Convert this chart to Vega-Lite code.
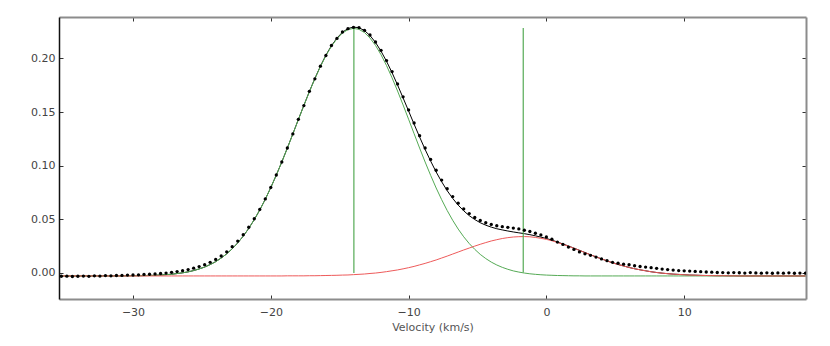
{
  "$schema": "https://vega.github.io/schema/vega-lite/v6.json",
  "width": 747,
  "height": 282,
  "autosize": {"type": "none"},
  "padding": {"left": 59, "top": 17, "right": 24, "bottom": 47},
  "background": "white",
  "config": {"view": {"stroke": null}},
  "data": {"values": [
    {"v":-35.2,"obs":-0.0031,"fit":-0.0028,"g1":-0.0028,"g2":-0.0028},
    {"v":-34.8,"obs":-0.0030,"fit":-0.0028,"g1":-0.0028,"g2":-0.0028},
    {"v":-34.4,"obs":-0.0033,"fit":-0.0028,"g1":-0.0028,"g2":-0.0028},
    {"v":-34.0,"obs":-0.0031,"fit":-0.0028,"g1":-0.0028,"g2":-0.0028},
    {"v":-33.6,"obs":-0.0029,"fit":-0.0028,"g1":-0.0028,"g2":-0.0028},
    {"v":-33.2,"obs":-0.0032,"fit":-0.0028,"g1":-0.0028,"g2":-0.0028},
    {"v":-32.8,"obs":-0.0027,"fit":-0.0028,"g1":-0.0028,"g2":-0.0028},
    {"v":-32.4,"obs":-0.0029,"fit":-0.0028,"g1":-0.0028,"g2":-0.0028},
    {"v":-32.0,"obs":-0.0025,"fit":-0.0028,"g1":-0.0028,"g2":-0.0028},
    {"v":-31.6,"obs":-0.0027,"fit":-0.0028,"g1":-0.0028,"g2":-0.0028},
    {"v":-31.2,"obs":-0.0024,"fit":-0.0028,"g1":-0.0028,"g2":-0.0028},
    {"v":-30.8,"obs":-0.0023,"fit":-0.0028,"g1":-0.0028,"g2":-0.0028},
    {"v":-30.4,"obs":-0.0020,"fit":-0.0027,"g1":-0.0027,"g2":-0.0028},
    {"v":-30.0,"obs":-0.0019,"fit":-0.0026,"g1":-0.0026,"g2":-0.0028},
    {"v":-29.6,"obs":-0.0018,"fit":-0.0026,"g1":-0.0026,"g2":-0.0028},
    {"v":-29.2,"obs":-0.0014,"fit":-0.0025,"g1":-0.0025,"g2":-0.0028},
    {"v":-28.8,"obs":-0.0012,"fit":-0.0024,"g1":-0.0024,"g2":-0.0028},
    {"v":-28.4,"obs":-0.0009,"fit":-0.0022,"g1":-0.0022,"g2":-0.0028},
    {"v":-28.0,"obs":-0.0005,"fit":-0.0019,"g1":-0.0019,"g2":-0.0028},
    {"v":-27.6,"obs":-0.0001,"fit":-0.0016,"g1":-0.0016,"g2":-0.0028},
    {"v":-27.2,"obs":0.0006,"fit":-0.0012,"g1":-0.0012,"g2":-0.0028},
    {"v":-26.8,"obs":0.0013,"fit":-0.0006,"g1":-0.0006,"g2":-0.0028},
    {"v":-26.4,"obs":0.0021,"fit":0.0001,"g1":0.0001,"g2":-0.0028},
    {"v":-26.0,"obs":0.0031,"fit":0.0010,"g1":0.0010,"g2":-0.0028},
    {"v":-25.6,"obs":0.0044,"fit":0.0022,"g1":0.0022,"g2":-0.0028},
    {"v":-25.2,"obs":0.0059,"fit":0.0037,"g1":0.0037,"g2":-0.0028},
    {"v":-24.8,"obs":0.0077,"fit":0.0055,"g1":0.0055,"g2":-0.0028},
    {"v":-24.4,"obs":0.0099,"fit":0.0078,"g1":0.0078,"g2":-0.0028},
    {"v":-24.0,"obs":0.0126,"fit":0.0105,"g1":0.0105,"g2":-0.0028},
    {"v":-23.6,"obs":0.0158,"fit":0.0139,"g1":0.0139,"g2":-0.0028},
    {"v":-23.2,"obs":0.0197,"fit":0.0178,"g1":0.0178,"g2":-0.0028},
    {"v":-22.8,"obs":0.0245,"fit":0.0225,"g1":0.0225,"g2":-0.0028},
    {"v":-22.4,"obs":0.0297,"fit":0.0280,"g1":0.0280,"g2":-0.0028},
    {"v":-22.0,"obs":0.0357,"fit":0.0343,"g1":0.0343,"g2":-0.0028},
    {"v":-21.6,"obs":0.0426,"fit":0.0415,"g1":0.0415,"g2":-0.0028},
    {"v":-21.2,"obs":0.0505,"fit":0.0497,"g1":0.0497,"g2":-0.0028},
    {"v":-20.8,"obs":0.0592,"fit":0.0587,"g1":0.0587,"g2":-0.0028},
    {"v":-20.4,"obs":0.0690,"fit":0.0687,"g1":0.0687,"g2":-0.0028},
    {"v":-20.0,"obs":0.0797,"fit":0.0796,"g1":0.0796,"g2":-0.0028},
    {"v":-19.6,"obs":0.0913,"fit":0.0912,"g1":0.0912,"g2":-0.0028},
    {"v":-19.2,"obs":0.1034,"fit":0.1035,"g1":0.1035,"g2":-0.0028},
    {"v":-18.8,"obs":0.1165,"fit":0.1164,"g1":0.1163,"g2":-0.0027},
    {"v":-18.4,"obs":0.1296,"fit":0.1296,"g1":0.1295,"g2":-0.0027},
    {"v":-18.0,"obs":0.1432,"fit":0.1430,"g1":0.1429,"g2":-0.0027},
    {"v":-17.6,"obs":0.1560,"fit":0.1562,"g1":0.1561,"g2":-0.0027},
    {"v":-17.2,"obs":0.1693,"fit":0.1691,"g1":0.1689,"g2":-0.0026},
    {"v":-16.8,"obs":0.1810,"fit":0.1813,"g1":0.1811,"g2":-0.0026},
    {"v":-16.4,"obs":0.1928,"fit":0.1927,"g1":0.1924,"g2":-0.0025},
    {"v":-16.0,"obs":0.2027,"fit":0.2030,"g1":0.2026,"g2":-0.0024},
    {"v":-15.6,"obs":0.2120,"fit":0.2118,"g1":0.2113,"g2":-0.0023},
    {"v":-15.2,"obs":0.2186,"fit":0.2189,"g1":0.2183,"g2":-0.0022},
    {"v":-14.8,"obs":0.2246,"fit":0.2244,"g1":0.2236,"g2":-0.0020},
    {"v":-14.4,"obs":0.2277,"fit":0.2278,"g1":0.2268,"g2":-0.0019},
    {"v":-14.0,"obs":0.2290,"fit":0.2292,"g1":0.2280,"g2":-0.0016},
    {"v":-13.6,"obs":0.2287,"fit":0.2286,"g1":0.2271,"g2":-0.0013},
    {"v":-13.2,"obs":0.2262,"fit":0.2259,"g1":0.2241,"g2":-0.0010},
    {"v":-12.8,"obs":0.2218,"fit":0.2213,"g1":0.2190,"g2":-0.0005},
    {"v":-12.4,"obs":0.2153,"fit":0.2149,"g1":0.2121,"g2":-0.0001},
    {"v":-12.0,"obs":0.2075,"fit":0.2067,"g1":0.2034,"g2":0.0005},
    {"v":-11.6,"obs":0.1980,"fit":0.1973,"g1":0.1933,"g2":0.0012},
    {"v":-11.2,"obs":0.1877,"fit":0.1867,"g1":0.1819,"g2":0.0020},
    {"v":-10.8,"obs":0.1762,"fit":0.1752,"g1":0.1696,"g2":0.0028},
    {"v":-10.4,"obs":0.1642,"fit":0.1632,"g1":0.1566,"g2":0.0038},
    {"v":-10.0,"obs":0.1520,"fit":0.1510,"g1":0.1433,"g2":0.0049},
    {"v":-9.6,"obs":0.1398,"fit":0.1387,"g1":0.1298,"g2":0.0061},
    {"v":-9.2,"obs":0.1280,"fit":0.1267,"g1":0.1164,"g2":0.0075},
    {"v":-8.8,"obs":0.1165,"fit":0.1151,"g1":0.1034,"g2":0.0089},
    {"v":-8.4,"obs":0.1058,"fit":0.1043,"g1":0.0910,"g2":0.0105},
    {"v":-8.0,"obs":0.0957,"fit":0.0941,"g1":0.0792,"g2":0.0121},
    {"v":-7.6,"obs":0.0866,"fit":0.0850,"g1":0.0683,"g2":0.0139},
    {"v":-7.2,"obs":0.0785,"fit":0.0767,"g1":0.0582,"g2":0.0157},
    {"v":-6.8,"obs":0.0712,"fit":0.0695,"g1":0.0491,"g2":0.0176},
    {"v":-6.4,"obs":0.0650,"fit":0.0632,"g1":0.0409,"g2":0.0195},
    {"v":-6.0,"obs":0.0597,"fit":0.0579,"g1":0.0337,"g2":0.0214},
    {"v":-5.6,"obs":0.0553,"fit":0.0534,"g1":0.0274,"g2":0.0232},
    {"v":-5.2,"obs":0.0517,"fit":0.0498,"g1":0.0220,"g2":0.0250},
    {"v":-4.8,"obs":0.0489,"fit":0.0468,"g1":0.0173,"g2":0.0267},
    {"v":-4.4,"obs":0.0468,"fit":0.0445,"g1":0.0134,"g2":0.0283},
    {"v":-4.0,"obs":0.0452,"fit":0.0427,"g1":0.0101,"g2":0.0298},
    {"v":-3.6,"obs":0.0440,"fit":0.0412,"g1":0.0074,"g2":0.0310},
    {"v":-3.2,"obs":0.0431,"fit":0.0401,"g1":0.0052,"g2":0.0321},
    {"v":-2.8,"obs":0.0425,"fit":0.0391,"g1":0.0034,"g2":0.0329},
    {"v":-2.4,"obs":0.0418,"fit":0.0382,"g1":0.0019,"g2":0.0335},
    {"v":-2.0,"obs":0.0410,"fit":0.0374,"g1":0.0008,"g2":0.0338},
    {"v":-1.6,"obs":0.0398,"fit":0.0366,"g1":-0.0001,"g2":0.0339},
    {"v":-1.2,"obs":0.0386,"fit":0.0357,"g1":-0.0008,"g2":0.0337},
    {"v":-0.8,"obs":0.0370,"fit":0.0346,"g1":-0.0013,"g2":0.0331},
    {"v":-0.4,"obs":0.0354,"fit":0.0334,"g1":-0.0017,"g2":0.0323},
    {"v":0.0,"obs":0.0336,"fit":0.0321,"g1":-0.0020,"g2":0.0313},
    {"v":0.4,"obs":0.0314,"fit":0.0306,"g1":-0.0022,"g2":0.0300},
    {"v":0.8,"obs":0.0288,"fit":0.0288,"g1":-0.0024,"g2":0.0284},
    {"v":1.2,"obs":0.0266,"fit":0.0270,"g1":-0.0025,"g2":0.0267},
    {"v":1.6,"obs":0.0241,"fit":0.0251,"g1":-0.0026,"g2":0.0249},
    {"v":2.0,"obs":0.0219,"fit":0.0231,"g1":-0.0027,"g2":0.0230},
    {"v":2.4,"obs":0.0196,"fit":0.0211,"g1":-0.0027,"g2":0.0210},
    {"v":2.8,"obs":0.0178,"fit":0.0190,"g1":-0.0028,"g2":0.0190},
    {"v":3.2,"obs":0.0164,"fit":0.0169,"g1":-0.0028,"g2":0.0169},
    {"v":3.6,"obs":0.0148,"fit":0.0150,"g1":-0.0028,"g2":0.0150},
    {"v":4.0,"obs":0.0131,"fit":0.0131,"g1":-0.0028,"g2":0.0131},
    {"v":4.4,"obs":0.0114,"fit":0.0112,"g1":-0.0028,"g2":0.0112},
    {"v":4.8,"obs":0.0099,"fit":0.0095,"g1":-0.0028,"g2":0.0095},
    {"v":5.2,"obs":0.0090,"fit":0.0079,"g1":-0.0028,"g2":0.0079},
    {"v":5.6,"obs":0.0082,"fit":0.0065,"g1":-0.0028,"g2":0.0065},
    {"v":6.0,"obs":0.0076,"fit":0.0051,"g1":-0.0028,"g2":0.0051},
    {"v":6.4,"obs":0.0067,"fit":0.0039,"g1":-0.0028,"g2":0.0039},
    {"v":6.8,"obs":0.0060,"fit":0.0029,"g1":-0.0028,"g2":0.0029},
    {"v":7.2,"obs":0.0055,"fit":0.0020,"g1":-0.0028,"g2":0.0020},
    {"v":7.6,"obs":0.0049,"fit":0.0011,"g1":-0.0028,"g2":0.0011},
    {"v":8.0,"obs":0.0043,"fit":0.0004,"g1":-0.0028,"g2":0.0004},
    {"v":8.4,"obs":0.0036,"fit":-0.0002,"g1":-0.0028,"g2":-0.0002},
    {"v":8.8,"obs":0.0031,"fit":-0.0007,"g1":-0.0028,"g2":-0.0007},
    {"v":9.2,"obs":0.0027,"fit":-0.0011,"g1":-0.0028,"g2":-0.0011},
    {"v":9.6,"obs":0.0022,"fit":-0.0014,"g1":-0.0028,"g2":-0.0014},
    {"v":10.0,"obs":0.0020,"fit":-0.0017,"g1":-0.0028,"g2":-0.0017},
    {"v":10.4,"obs":0.0017,"fit":-0.0020,"g1":-0.0028,"g2":-0.0020},
    {"v":10.8,"obs":0.0014,"fit":-0.0021,"g1":-0.0028,"g2":-0.0021},
    {"v":11.2,"obs":0.0012,"fit":-0.0023,"g1":-0.0028,"g2":-0.0023},
    {"v":11.6,"obs":0.0009,"fit":-0.0024,"g1":-0.0028,"g2":-0.0024},
    {"v":12.0,"obs":0.0007,"fit":-0.0025,"g1":-0.0028,"g2":-0.0025},
    {"v":12.4,"obs":0.0004,"fit":-0.0026,"g1":-0.0028,"g2":-0.0026},
    {"v":12.8,"obs":0.0003,"fit":-0.0026,"g1":-0.0028,"g2":-0.0026},
    {"v":13.2,"obs":0.0001,"fit":-0.0027,"g1":-0.0028,"g2":-0.0027},
    {"v":13.6,"obs":0.0003,"fit":-0.0027,"g1":-0.0028,"g2":-0.0027},
    {"v":14.0,"obs":0.0002,"fit":-0.0028,"g1":-0.0028,"g2":-0.0028},
    {"v":14.4,"obs":-0.0001,"fit":-0.0028,"g1":-0.0028,"g2":-0.0028},
    {"v":14.8,"obs":0.0003,"fit":-0.0028,"g1":-0.0028,"g2":-0.0028},
    {"v":15.2,"obs":0.0000,"fit":-0.0028,"g1":-0.0028,"g2":-0.0028},
    {"v":15.6,"obs":-0.0002,"fit":-0.0028,"g1":-0.0028,"g2":-0.0028},
    {"v":16.0,"obs":0.0001,"fit":-0.0028,"g1":-0.0028,"g2":-0.0028},
    {"v":16.4,"obs":-0.0003,"fit":-0.0028,"g1":-0.0028,"g2":-0.0028},
    {"v":16.8,"obs":0.0000,"fit":-0.0028,"g1":-0.0028,"g2":-0.0028},
    {"v":17.2,"obs":-0.0002,"fit":-0.0028,"g1":-0.0028,"g2":-0.0028},
    {"v":17.6,"obs":0.0001,"fit":-0.0028,"g1":-0.0028,"g2":-0.0028},
    {"v":18.0,"obs":-0.0003,"fit":-0.0028,"g1":-0.0028,"g2":-0.0028},
    {"v":18.4,"obs":-0.0001,"fit":-0.0028,"g1":-0.0028,"g2":-0.0028},
    {"v":18.8,"obs":-0.0002,"fit":-0.0028,"g1":-0.0028,"g2":-0.0028}
  ]},
  "resolve": {"axis": {"x": "independent", "y": "independent"}},
  "layer": [
    {
      "mark": {"type": "line", "color": "#000000", "strokeWidth": 1, "clip": true},
      "encoding": {
        "x": {"field": "v", "type": "quantitative",
          "scale": {"domain": [-35.37, 18.84], "nice": false, "zero": false},
          "axis": {"orient": "bottom", "values": [-30, -20, -10, 0, 10], "tickSize": -4, "tickColor": "#333333", "labelPadding": 11,
            "domainColor": "#8c8c8c", "domainWidth": 2, "grid": false,
            "labelFont": "DejaVu Sans", "labelFontSize": 11, "labelColor": "#444444",
            "title": "Velocity (km/s)", "titleFont": "DejaVu Sans", "titleFontSize": 11, "titleFontWeight": "normal", "titleColor": "#555555", "titlePadding": 4}},
        "y": {"field": "fit", "type": "quantitative",
          "scale": {"domain": [-0.0243, 0.2386], "nice": false, "zero": false},
          "axis": {"orient": "left", "values": [0, 0.05, 0.1, 0.15, 0.2], "format": ".2f", "tickSize": -4, "tickColor": "#333333", "labelPadding": 8,
            "domainColor": "#111111", "domainWidth": 1.5, "grid": false,
            "labelFont": "DejaVu Sans", "labelFontSize": 11, "labelColor": "#444444", "title": null}}
      }
    },
    {
      "mark": {"type": "line", "color": "#55aa55", "strokeWidth": 1, "clip": true},
      "encoding": {
        "x": {"field": "v", "type": "quantitative", "scale": {"domain": [-35.37, 18.84], "nice": false, "zero": false}, "axis": null},
        "y": {"field": "g1", "type": "quantitative", "scale": {"domain": [-0.0243, 0.2386], "nice": false, "zero": false}, "axis": null}
      }
    },
    {
      "mark": {"type": "line", "color": "#ee5a5a", "strokeWidth": 1, "clip": true},
      "encoding": {
        "x": {"field": "v", "type": "quantitative", "scale": {"domain": [-35.37, 18.84], "nice": false, "zero": false}, "axis": null},
        "y": {"field": "g2", "type": "quantitative", "scale": {"domain": [-0.0243, 0.2386], "nice": false, "zero": false}, "axis": null}
      }
    },
    {
      "data": {"values": [
        {"c": -13.97, "lo": 0.0, "hi": 0.2284},
        {"c": -1.68, "lo": 0.0003, "hi": 0.2284}
      ]},
      "mark": {"type": "rule", "color": "#55aa55", "strokeWidth": 1.2},
      "encoding": {
        "x": {"field": "c", "type": "quantitative", "scale": {"domain": [-35.37, 18.84], "nice": false, "zero": false}, "axis": null},
        "y": {"field": "lo", "type": "quantitative", "scale": {"domain": [-0.0243, 0.2386], "nice": false, "zero": false}, "axis": null},
        "y2": {"field": "hi"}
      }
    },
    {
      "mark": {"type": "point", "filled": true, "color": "#000000", "opacity": 1, "size": 11, "clip": true},
      "encoding": {
        "x": {"field": "v", "type": "quantitative", "scale": {"domain": [-35.37, 18.84], "nice": false, "zero": false}, "axis": null},
        "y": {"field": "obs", "type": "quantitative", "scale": {"domain": [-0.0243, 0.2386], "nice": false, "zero": false}, "axis": null}
      }
    },
    {
      "mark": {"type": "point", "opacity": 0},
      "encoding": {
        "x": {"field": "v", "type": "quantitative", "scale": {"domain": [-35.37, 18.84], "nice": false, "zero": false},
          "axis": {"orient": "top", "values": [-30, -20, -10, 0, 10], "tickSize": -4, "tickColor": "#333333", "labels": false,
            "domainColor": "#8c8c8c", "domainWidth": 2, "grid": false, "title": null}},
        "y": {"field": "obs", "type": "quantitative", "scale": {"domain": [-0.0243, 0.2386], "nice": false, "zero": false},
          "axis": {"orient": "right", "values": [0, 0.05, 0.1, 0.15, 0.2], "tickSize": -4, "tickColor": "#333333", "labels": false,
            "domainColor": "#8c8c8c", "domainWidth": 2, "grid": false, "title": null}}
      }
    }
  ]
}
